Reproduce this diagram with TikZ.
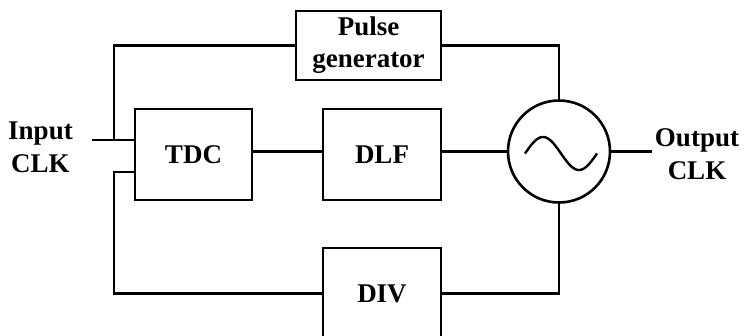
\documentclass[tikz,border=0pt]{standalone}
\usepackage{fontspec}
\setmainfont{Liberation Serif}
\begin{document}
\begin{tikzpicture}[x=1pt,y=-1pt,
  line width=2.6pt,
  blk/.style={draw, rectangle, inner sep=0pt, font=\bfseries\fontsize{27}{32}\selectfont, align=center},
  lbl/.style={inner sep=0pt, font=\bfseries\fontsize{27}{33}\selectfont, align=center}]
\useasboundingbox (0,0) rectangle (744,335);
\clip (0,0) rectangle (744,335);
\node[blk, minimum width=145pt, minimum height=69pt] (pulse) at (368.5,45.5) {Pulse\\generator};
\node[blk, minimum width=117pt, minimum height=91pt] (tdc) at (193.5,154.5) {TDC};
\node[blk, minimum width=118pt, minimum height=91pt] (dlf) at (382,154.5) {DLF};
\node[blk, minimum width=118pt, minimum height=91pt] (div) at (382,293.5) {DIV};
\node[draw, circle, minimum size=102pt, inner sep=0pt] (vco) at (559,151.5) {};
\draw[line width=2.4pt] plot[domain=0:360, samples=72, smooth] ({525+\x/5}, {153.5-16.5*sin(\x)});
\node[lbl] (inlbl) at (40.5,147) {Input\\CLK};
\node[lbl] (outlbl) at (697,154) {Output\\CLK};
\coordinate (in) at (92,140);
\coordinate (jin) at (114,140);
\coordinate (jb) at (114,172);
\coordinate (out) at (652,151.5);
\draw (in) -- (in -| tdc.west);
\draw (jin) |- (pulse.west);
\draw (pulse.east) -| (vco.north);
\draw (tdc.east |- vco.west) -- (dlf.west |- vco.west);
\draw (dlf.east |- vco.west) -- (vco.west);
\draw (jb -| tdc.west) -- (jb) |- (div.west);
\draw (div.east) -| (vco.south);
\draw (vco.east) -- (out);
\end{tikzpicture}
\end{document}
